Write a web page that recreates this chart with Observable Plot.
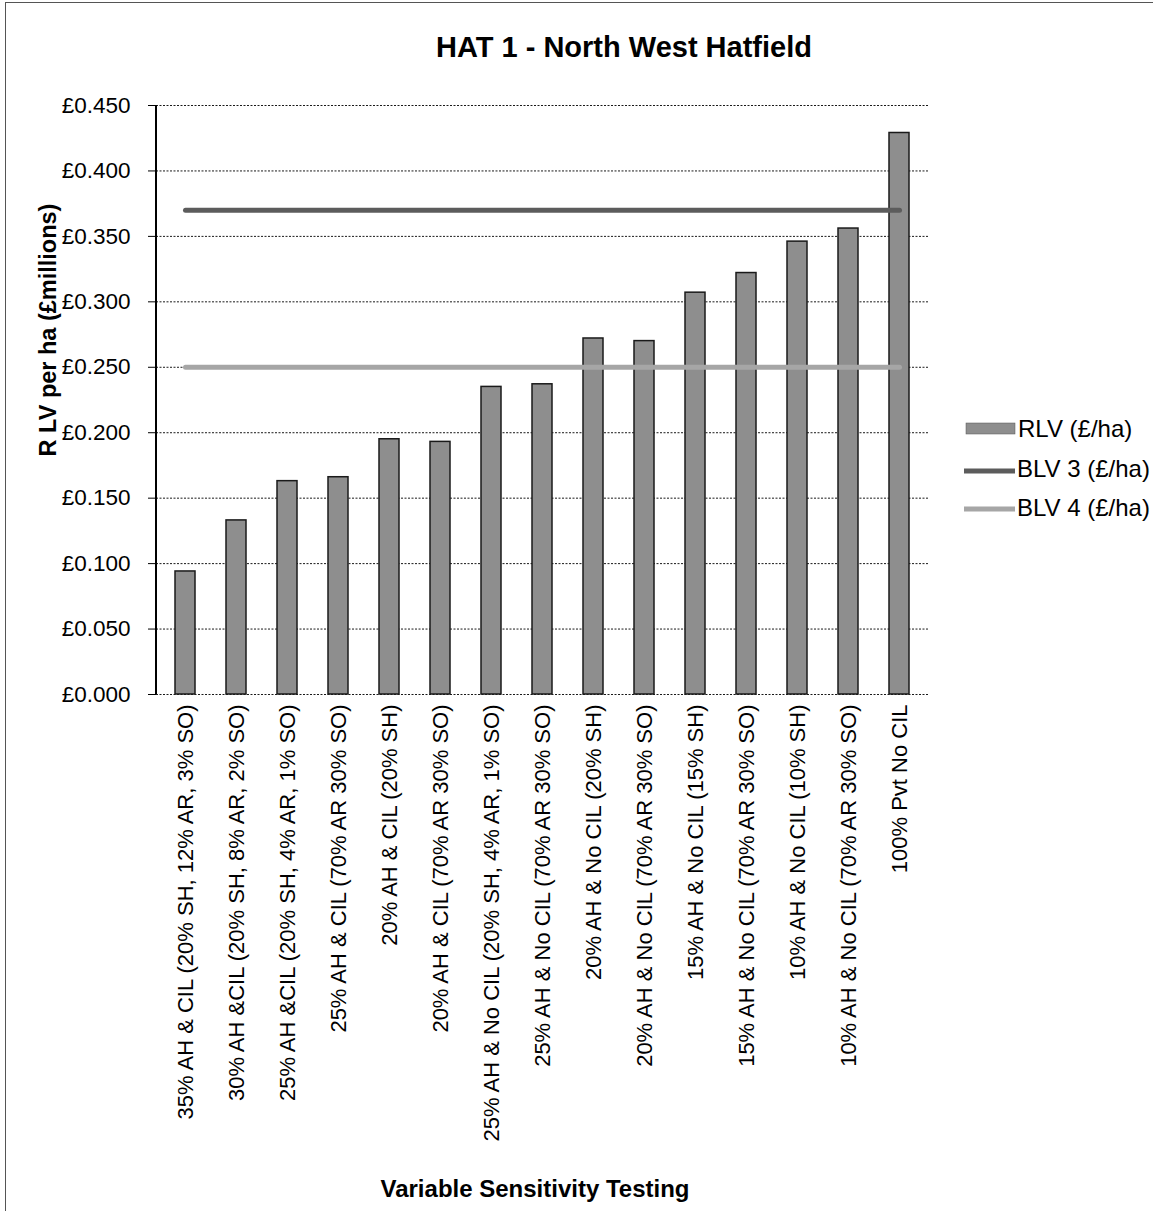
<!DOCTYPE html>
<html><head><meta charset="utf-8">
<script src="https://cdn.jsdelivr.net/npm/d3@7"></script>
<script src="https://cdn.jsdelivr.net/npm/@observablehq/plot@0.6"></script>
<style>
body{margin:0;background:#fff;}
#wrap{position:relative;width:1153px;height:1218px;overflow:hidden;background:#fff;}
#frame{position:absolute;left:5px;top:2px;width:1200px;height:1208px;border-left:1.5px solid #555;border-top:1.5px solid #555;pointer-events:none}
</style></head><body>
<div id="wrap"><div id="chart"></div><div id="frame"></div></div>
<script>
const categories = [
  "35% AH & CIL (20% SH, 12% AR, 3% SO)",
  "30% AH &CIL (20% SH, 8% AR, 2% SO)",
  "25% AH &CIL (20% SH, 4% AR, 1% SO)",
  "25% AH & CIL (70% AR 30% SO)",
  "20% AH & CIL (20% SH)",
  "20% AH & CIL (70% AR 30% SO)",
  "25% AH & No CIL (20% SH, 4% AR, 1% SO)",
  "25% AH & No CIL (70% AR 30% SO)",
  "20% AH & No CIL (20% SH)",
  "20% AH & No CIL (70% AR 30% SO)",
  "15% AH & No CIL (15% SH)",
  "15% AH & No CIL (70% AR 30% SO)",
  "10% AH & No CIL (10% SH)",
  "10% AH & No CIL (70% AR 30% SO)",
  "100% Pvt No CIL"
];
const rlv = [0.094, 0.133, 0.163, 0.166, 0.195, 0.193, 0.235, 0.237, 0.272, 0.270, 0.307, 0.322, 0.346, 0.356, 0.429];
const blv3 = 0.370;
const blv4 = 0.250;
const yTicks = [0, 0.05, 0.10, 0.15, 0.20, 0.25, 0.30, 0.35, 0.40, 0.45];
const seriesNames = ["RLV (£/ha)", "BLV 3 (£/ha)", "BLV 4 (£/ha)"];
const chartTitle = "HAT 1 - North West Hatfield";
const xTitle = "Variable Sensitivity Testing";
const yTitle = "R LV per ha (£millions)";

const FONT = "'Liberation Sans', Arial, Helvetica, sans-serif";
const barFill = "#8e8e8e", blv3Color = "#5c5c5c", blv4Color = "#a6a6a6";

const bars = categories.map((c, i) => ({category: c, value: rlv[i]}));
const line3 = categories.map(c => ({category: c, value: blv3}));
const line4 = categories.map(c => ({category: c, value: blv4}));

const W = 1153, H = 1218;
const chart = Plot.plot({
  width: W, height: H,
  marginTop: 105, marginBottom: 524, marginLeft: 156, marginRight: 225,
  style: {fontFamily: FONT, background: "#fff", color: "#000", overflow: "visible"},
  x: {domain: categories, paddingInner: 0.6, paddingOuter: 0.3, label: null},
  y: {domain: [0, 0.45], label: null},
  marks: [
    Plot.gridY(yTicks, {stroke: "#000", strokeOpacity: 0.9, strokeDasharray: "2,1.5", strokeWidth: 1}),
    Plot.barY(bars, {x: "category", y: "value", fill: barFill, stroke: "#1a1a1a", strokeWidth: 1.5}),
    Plot.line(line4, {x: "category", y: "value", stroke: blv4Color, strokeWidth: 5}),
    Plot.line(line3, {x: "category", y: "value", stroke: blv3Color, strokeWidth: 5}),
    Plot.axisY({ticks: yTicks, tickFormat: d => "£" + d3.format(".3f")(d), tickSize: 8, tickPadding: 18, fontSize: 22.5, label: null}),
    Plot.axisX({tickRotate: -90, tickSize: 0, tickPadding: 10, fontSize: 22, label: null})
  ]
});
document.getElementById("chart").appendChild(chart);

const svg = d3.select(chart);
const xr = chart.scale("x").range, yr = chart.scale("y").range;
// y axis line
svg.append("line").attr("x1", xr[0]).attr("x2", xr[0]).attr("y1", Math.min(...yr)).attr("y2", Math.max(...yr))
  .attr("stroke", "#000").attr("stroke-width", 2);

// titles
svg.append("text").attr("x", 624).attr("y", 57).attr("text-anchor", "middle")
  .attr("font-family", FONT).attr("font-weight", "bold").attr("font-size", 29).text(chartTitle);
svg.append("text").attr("x", 535).attr("y", 1197).attr("text-anchor", "middle")
  .attr("font-family", FONT).attr("font-weight", "bold").attr("font-size", 24).text(xTitle);
svg.append("text").attr("transform", "translate(56,330) rotate(-90)").attr("text-anchor", "middle")
  .attr("font-family", FONT).attr("font-weight", "bold").attr("font-size", 23.5).text(yTitle);

// legend
const lg = svg.append("g").attr("font-family", FONT).attr("font-size", 24).attr("text-anchor", "start");
lg.append("rect").attr("x", 966).attr("y", 423).attr("width", 49).attr("height", 11).attr("fill", barFill).attr("stroke", "#555").attr("stroke-width", 0.5);
lg.append("text").attr("x", 1018).attr("y", 437).attr("text-anchor", "start").text(seriesNames[0]);
lg.append("line").attr("x1", 964).attr("x2", 1015).attr("y1", 471).attr("y2", 471).attr("stroke", blv3Color).attr("stroke-width", 5);
lg.append("text").attr("x", 1017).attr("y", 477).attr("text-anchor", "start").text(seriesNames[1]);
lg.append("line").attr("x1", 964).attr("x2", 1015).attr("y1", 509).attr("y2", 509).attr("stroke", blv4Color).attr("stroke-width", 5);
lg.append("text").attr("x", 1017).attr("y", 516).attr("text-anchor", "start").text(seriesNames[2]);
</script>
</body></html>
